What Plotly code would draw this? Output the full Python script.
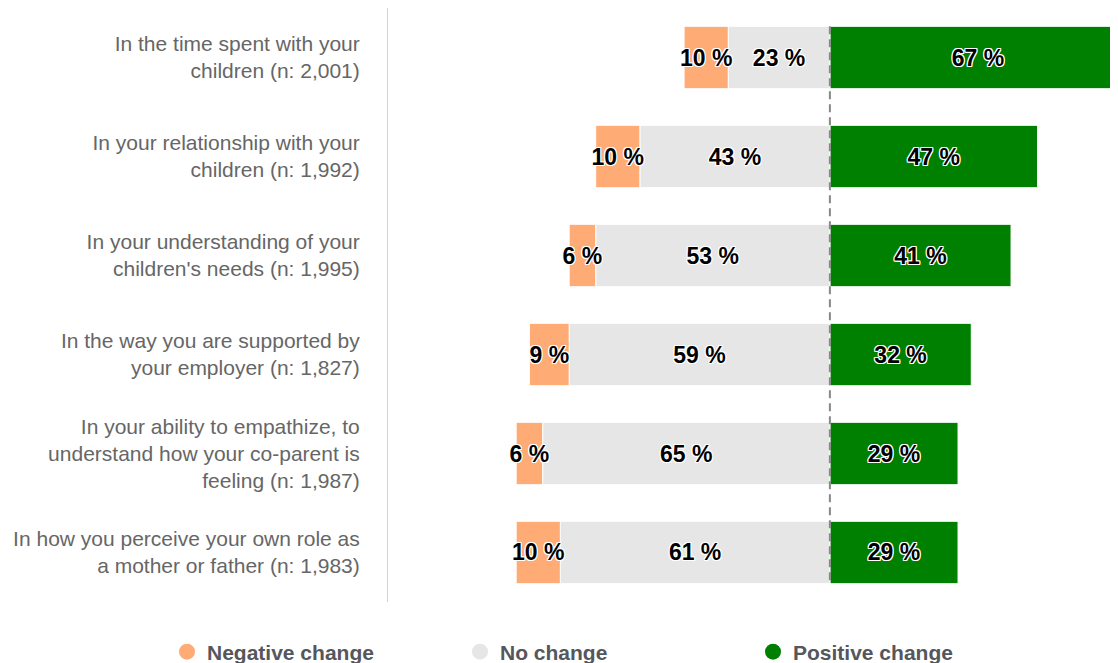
import plotly.graph_objects as go

categories = [
    "In the time spent with your<br>children (n: 2,001)",
    "In your relationship with your<br>children (n: 1,992)",
    "In your understanding of your<br>children's needs (n: 1,995)",
    "In the way you are supported by<br>your employer (n: 1,827)",
    "In your ability to empathize, to<br>understand how your co-parent is<br>feeling (n: 1,987)",
    "In how you perceive your own role as<br>a mother or father (n: 1,983)",
]
negative = [10, 10, 6, 9, 6, 10]
no_change = [23, 43, 53, 59, 65, 61]
positive = [67, 47, 41, 32, 29, 29]
series_names = ["Negative change", "No change", "Positive change"]
colors = ["#FFAB76", "#E6E6E6", "#008000"]

FONT = "Liberation Sans, Arial, sans-serif"
outline = ("-1px -1px 0 #fff, 1px -1px 0 #fff, -1px 1px 0 #fff, 1px 1px 0 #fff, "
           "0 1px 0 #fff, 0 -1px 0 #fff, 1px 0 0 #fff, -1px 0 0 #fff")
label_font = dict(family=FONT, size=23, color="black", weight="bold", shadow=outline)

# page is offset by the 8px body margin; figure sized to fill the visible window
W, H = 1110, 655
ML, MT, MB = 380, 0, 61
PLOT_W = W - ML
PLOT_H = H - MT - MB

fig = go.Figure()

neg_base = [-(n + z) for n, z in zip(negative, no_change)]
none_base = [-z for z in no_change]
pos_base = [0 for _ in positive]

# draw positive first and negative last so small-bar labels stay on top
for vals, base, col in [(positive, pos_base, colors[2]),
                        (no_change, none_base, colors[1]),
                        (negative, neg_base, colors[0])]:
    fig.add_trace(go.Bar(
        y=categories, x=vals, base=base, orientation="h",
        marker=dict(color=col, line=dict(color="white", width=1)),
        width=0.63,
        text=[f"{v} %" for v in vals],
        textposition="inside", insidetextanchor="middle", textangle=0,
        constraintext="none", textfont=label_font,
        showlegend=False, hoverinfo="skip",
    ))

for name, col in zip(series_names, colors):
    fig.add_trace(go.Scatter(
        x=[None], y=[None], mode="markers", name=name,
        marker=dict(symbol="circle", size=20, color=col),
    ))

fig.add_shape(type="line", xref="x", yref="y", x0=0, x1=0, y0=-0.315, y1=5.315,
              line=dict(color="#888888", width=2, dash="8px,5px"), layer="above")

fig.update_layout(
    width=W, height=H,
    margin=dict(l=ML, r=0, t=MT, b=MB, autoexpand=False),
    paper_bgcolor="white", plot_bgcolor="white",
    barmode="overlay",
    font=dict(family=FONT),
    xaxis=dict(range=[-100, 65.2], showgrid=False, zeroline=False,
               showticklabels=False, showline=False, fixedrange=True),
    yaxis=dict(categoryorder="array", categoryarray=categories, autorange="reversed",
               showgrid=False, zeroline=False, showline=True, linecolor="#CCD6EB",
               linewidth=1, ticks="", ticklabelstandoff=23,
               tickfont=dict(family=FONT, size=21, color="#666666")),
    legend=dict(orientation="h", xref="paper", x=(159 - ML) / PLOT_W, xanchor="left",
                yref="paper", y=-(644 - (MT + PLOT_H)) / PLOT_H, yanchor="middle",
                font=dict(family=FONT, size=21, color="#54575C", weight="bold"),
                entrywidth=248, itemclick=False),
)

fig.write_html("out.html")
